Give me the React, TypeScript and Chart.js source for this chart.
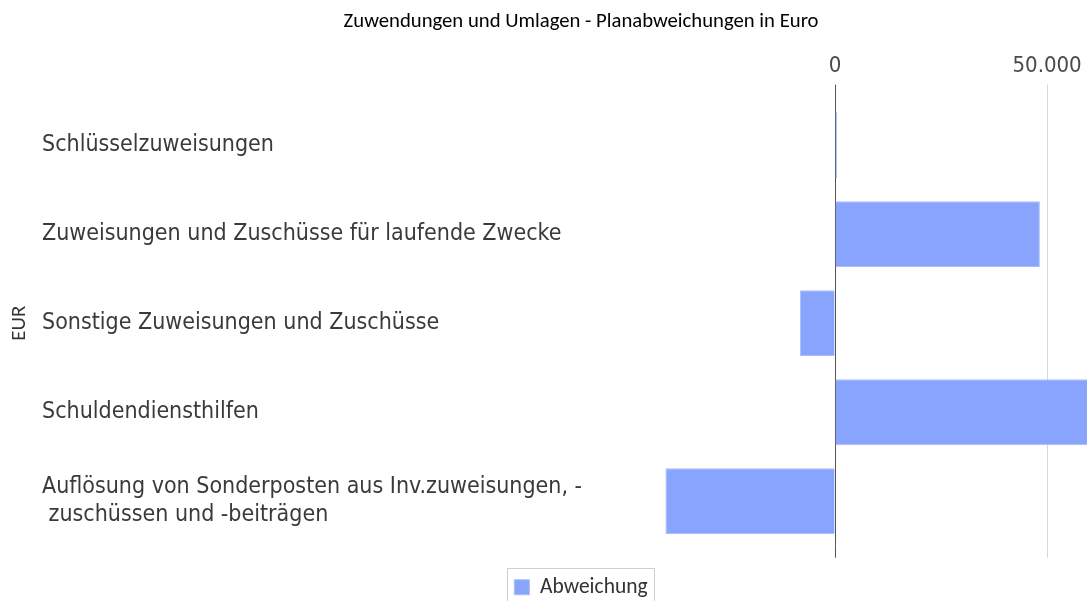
import { useEffect, useRef } from 'react';
import { Chart, registerables } from 'chart.js';

Chart.register(...registerables);

const chartTitle = 'Zuwendungen und Umlagen - Planabweichungen in Euro';
const seriesName = 'Abweichung';
const yAxisTitle = 'EUR';
const categories: (string | string[])[] = [
  'Schlüsselzuweisungen',
  'Zuweisungen und Zuschüsse für laufende Zwecke',
  'Sonstige Zuweisungen und Zuschüsse',
  'Schuldendiensthilfen',
  ['Auflösung von Sonderposten aus Inv.zuweisungen, -', ' zuschüssen und -beiträgen'],
];
const abweichung = [500, 48300, -8300, 68000, -40000];
const xTickValues = [0, 50000];
const xMin = -46000;
const xMax = 77100;

const W = 1162;
const H = 608;

const labelFont = "'DejaVu Sans Condensed', 'DejaVu Sans', sans-serif";
const titleFont = "Carlito, Lato, sans-serif";

const fmt = (v: number) => {
  const s = String(Math.abs(v)).replace(/\B(?=(\d{3})+(?!\d))/g, '.');
  return v < 0 ? '-' + s : s;
};

const gridColor = (ctx: any) => (ctx.tick && ctx.tick.value === 0 ? '#555555' : '#d6d6d6');

const legendBorder = {
  id: 'legendBorder',
  afterDraw(chart: any) {
    const lg = chart.legend;
    if (!lg || !lg.legendHitBoxes || !lg.legendHitBoxes.length) return;
    const hb = lg.legendHitBoxes[0];
    const ctx = chart.ctx;
    ctx.save();
    ctx.strokeStyle = '#cfcfcf';
    ctx.lineWidth = 1;
    ctx.strokeRect(Math.round(hb.left - 7) + 0.5, Math.round(hb.top - 8.5) + 0.5, Math.round(hb.width + 14), Math.round(hb.height + 17));
    ctx.restore();
  },
};

export default function App() {
  const ref = useRef<HTMLCanvasElement>(null);
  useEffect(() => {
    if (!ref.current) return;
    const setTicks = (s: any) => {
      s.ticks = xTickValues.map((v) => ({ value: v }));
    };
    const chart = new Chart(ref.current, {
      type: 'bar',
      data: {
        labels: categories as any,
        datasets: [
          {
            label: seriesName,
            data: abweichung,
            backgroundColor: '#88a4fc',
            borderColor: '#a9bcfd',
            borderWidth: 1,
            categoryPercentage: 0.8,
            barPercentage: 0.925,
          },
        ],
      },
      options: {
        indexAxis: 'y',
        responsive: false,
        animation: false,
        layout: { padding: 0 },
        plugins: {
          title: {
            display: true,
            text: chartTitle,
            color: '#000',
            font: { family: titleFont, size: 20.7, weight: 'normal' },
            padding: { top: 9.6, bottom: 13.1 },
          },
          legend: {
            display: true,
            position: 'bottom',
            labels: {
              color: '#333',
              font: { family: titleFont, size: 21.5 },
              boxWidth: 15,
              boxHeight: 15,
              padding: 18.75,
            },
          },
          tooltip: { enabled: false },
        },
        scales: {
          x: {
            type: 'linear',
            position: 'top',
            min: xMin,
            max: xMax,
            afterBuildTicks: setTicks,
            ticks: {
              color: '#4a4a4a',
              font: { family: labelFont, size: 22 },
              padding: 5.3,
              autoSkip: false,
              maxRotation: 0,
              callback: (v: any) => fmt(Number(v)),
            },
            grid: { color: gridColor, tickLength: 16, lineWidth: 1 },
            border: { display: false },
          },
          x2: {
            type: 'linear',
            position: 'bottom',
            min: xMin,
            max: xMax,
            afterBuildTicks: setTicks,
            ticks: { display: false },
            grid: { color: gridColor, tickLength: 12, drawOnChartArea: false, lineWidth: 1 },
            border: { display: false },
          },
          y: {
            type: 'category',
            position: 'left',
            weight: 0,
            afterFit: (s: any) => {
              s.width = 598;
            },
            ticks: {
              crossAlign: 'far',
              color: '#3a3a3a',
              padding: 0,
              font: { family: labelFont, size: 23, lineHeight: 1.22 },
            },
            grid: { display: false, drawTicks: false },
            border: { display: false },
          },
          yt: {
            type: 'category',
            position: 'left',
            weight: 1,
            afterFit: (s: any) => {
              s.width = 42;
            },
            ticks: { display: false },
            grid: { display: false, drawTicks: false },
            border: { display: false },
            title: {
              display: true,
              text: yAxisTitle,
              color: '#333',
              font: { family: titleFont, size: 21 },
              padding: { top: 7.4, bottom: 9 },
            },
          },
        },
      } as any,
      plugins: [legendBorder],
    });
    return () => chart.destroy();
  }, []);

  return (
    <div
      style={{
        position: 'fixed',
        left: 0,
        top: 0,
        width: 1087,
        height: 601,
        overflow: 'hidden',
        background: '#fff',
      }}
    >
      <canvas ref={ref} width={W} height={H} style={{ display: 'block' }} />
    </div>
  );
}
